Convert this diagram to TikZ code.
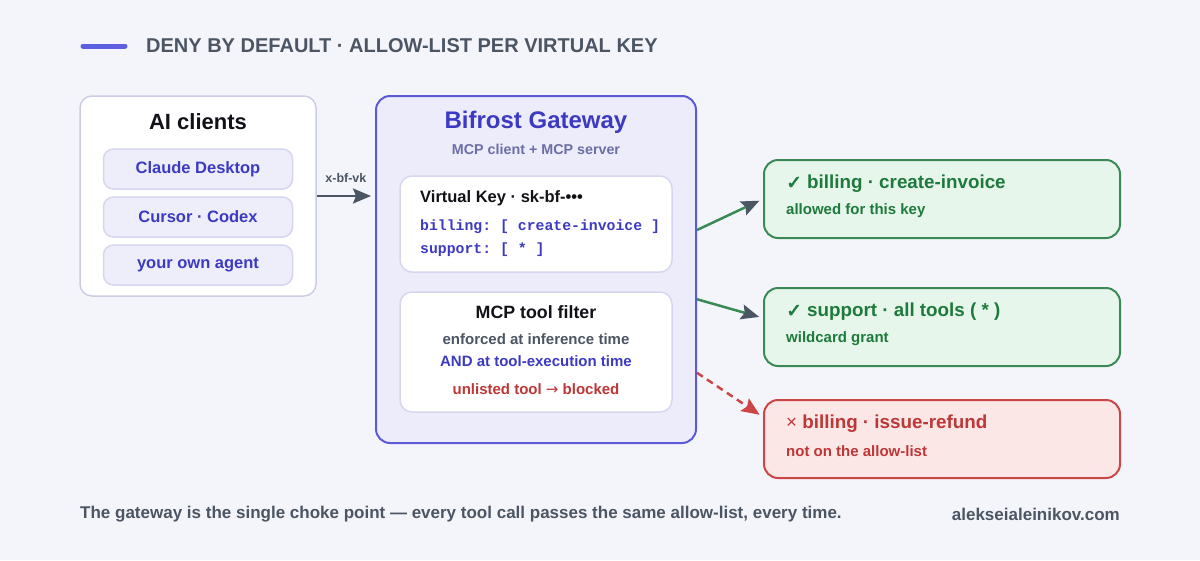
\documentclass[tikz,border=0pt]{standalone}
\usepackage{fontspec}
\setmainfont{Liberation Sans}
\setmonofont{Liberation Mono}
\newfontfamily\symfont[FakeBold=3]{DejaVu Sans}
\newfontfamily\arrowfont{DejaVu Sans}
\usetikzlibrary{arrows.meta,calc}

\definecolor{bgfill}{HTML}{F4F5FB}
\definecolor{accent}{HTML}{5B5FE0}
\definecolor{headgray}{HTML}{4B5563}
\definecolor{ink}{HTML}{111118}
\definecolor{panelline}{HTML}{CBCDE4}
\definecolor{pillfill}{HTML}{EEEEFA}
\definecolor{pillline}{HTML}{D6D7EE}
\definecolor{indigo}{HTML}{3D3AC2}
\definecolor{gwfill}{HTML}{ECECFB}
\definecolor{gwline}{HTML}{5B5BD6}
\definecolor{subblue}{HTML}{6C6FA6}
\definecolor{okfill}{HTML}{E6F6EA}
\definecolor{okline}{HTML}{3A8A55}
\definecolor{oktext}{HTML}{1E7A3C}
\definecolor{nofill}{HTML}{FCE7E7}
\definecolor{noline}{HTML}{CC4646}
\definecolor{notext}{HTML}{BE3636}

\newcommand{\bsz}[1]{\fontsize{#1}{#1}\selectfont\bfseries}

\tikzset{
  panel/.style={draw=panelline, line width=1.5pt, fill=white, rounded corners=12pt, inner sep=0pt},
  pill/.style={draw=pillline, line width=1.5pt, fill=pillfill, rounded corners=10pt,
    minimum width=189pt, minimum height=40pt, inner sep=0pt, text=indigo, font=\bsz{16.5}},
  gwbox/.style={draw=gwline, line width=2pt, fill=gwfill, rounded corners=14pt, inner sep=0pt},
  card/.style={draw=pillline, line width=1.5pt, fill=white, rounded corners=12pt, inner sep=0pt,
    minimum width=272pt},
  code/.style={anchor=west, inner sep=0pt, text=indigo, font=\ttfamily\bfseries\fontsize{14.8}{14.8}\selectfont},
  okbox/.style={draw=okline, line width=2pt, fill=okfill, rounded corners=14pt, inner sep=0pt,
    minimum width=356pt, minimum height=78pt},
  nobox/.style={okbox, draw=noline, fill=nofill},
  restitle/.style={anchor=west, inner sep=0pt, font=\bsz{18.8}},
  ressub/.style={anchor=west, inner sep=0pt, font=\bsz{15}},
  flow/.style={line width=2.5pt, draw=headgray, -{Stealth[length=18pt,width=15pt,inset=3pt]}, shorten >=4pt},
  okflow/.style={line width=2.5pt, draw=okline, -{Stealth[length=18pt,width=15pt,inset=3pt,color=headgray]}, shorten >=4pt},
  noflow/.style={line width=2.5pt, draw=noline, dash pattern=on 7pt off 5pt,
    -{Stealth[length=18pt,width=15pt,inset=3pt]}, shorten >=4pt}
}

\begin{document}
\begin{tikzpicture}[x=1pt,y=-1pt]
\fill[bgfill] (0,0) rectangle (1200,560);
\useasboundingbox (0,0) rectangle (1200,560);

% heading
\draw[accent, line width=5pt, line cap=round] (83,46) -- (125,46);
\node[anchor=west, inner sep=0pt, font=\bsz{20}, text=headgray] (head) at (146,46) {DENY BY DEFAULT · ALLOW-LIST PER VIRTUAL KEY};

% clients
\node[panel, minimum width=236pt, minimum height=200pt] (clients) at (198,196) {};
\node[font=\bsz{22}, text=ink] (clientstitle) at (198,122) {AI clients};
\node[pill] (claude) at (198,169) {Claude Desktop};
\node[pill] (cursor) at (198,217) {Cursor · Codex};
\node[pill] (agent) at (198,265) {your own agent};

% gateway
\node[gwbox, minimum width=320pt, minimum height=347pt] (gw) at (536,269.5) {};
\node[font=\bsz{24}, text=indigo] (gwtitle) at (536,122) {Bifrost Gateway};
\node[font=\bsz{14.3}, text=subblue] (gwsub) at (536,149) {MCP client + MCP server};

\node[card, minimum height=96pt] (vk) at (536,224) {};
\node[anchor=west, inner sep=0pt, font=\bsz{16.5}, text=ink] (vktitle) at (420,198) {Virtual Key · sk-bf-•••};
\node[code] (vkbill) at (420,227) {billing: [ create-invoice ]};
\node[code] (vksupp) at (420,250) {support: [ * ]};

\node[card, minimum height=120pt] (filter) at (536,352) {};
\node[font=\bsz{17.8}, text=ink] (filtertitle) at (536,312) {MCP tool filter};
\node[font=\bsz{15}, text=headgray] (filterinf) at (536,339) {enforced at inference time};
\node[font=\bsz{15}, text=indigo] (filterexec) at (536,361) {AND at tool-execution time};
\node[font=\bsz{15}, text=notext] (filterblock) at (536,389) {unlisted tool {\arrowfont\mdseries →} blocked};

% results
\node[okbox] (ok1) at (942,199) {};
\node[restitle, text=oktext] (ok1t) at (786,184) {{\symfont ✓} billing · create-invoice};
\node[ressub, text=oktext] (ok1s) at (786,211) {allowed for this key};

\node[okbox] (ok2) at (942,327) {};
\node[restitle, text=oktext] (ok2t) at (786,312) {{\symfont ✓} support · all tools ( * )};
\node[ressub, text=oktext] (ok2s) at (786,339) {wildcard grant};

\node[nobox] (deny) at (942,439) {};
\node[restitle, text=notext] (denyt) at (786,424) {{\mdseries ×} billing · issue-refund};
\node[ressub, text=notext] (denys) at (786,451) {not on the allow-list};

% connectors
\draw[flow] (clients.east) -- (gw.west |- clients.east)
  node[midway, above=12pt, inner sep=0pt, font=\bsz{12.5}, text=headgray] {x-bf-vk};
\draw[okflow] ($(gw.east |- vk.east)+(0,6)$) -- (ok1.west);
\draw[okflow] ($(gw.east |- filter.north)+(0,8)$) -- ($(ok2.west)+(0,-9)$);
\draw[noflow] ($(gw.east |- filter.south)+(0,-40)$) -- ($(deny.north west)+(0,18)$);

% footer
\node[anchor=west, inner sep=0pt, font=\bsz{17}, text=headgray] (note) at (80,514) {The gateway is the single choke point — every tool call passes the same allow-list, every time.};
\node[anchor=east, inner sep=0pt, font=\bsz{17}, text=headgray] (site) at (1120,514) {alekseialeinikov.com};
\end{tikzpicture}
\end{document}
